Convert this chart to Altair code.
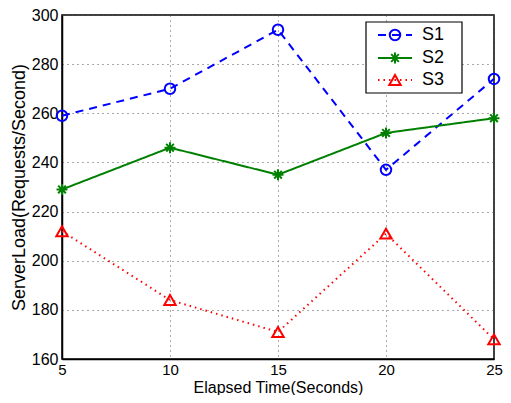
import altair as alt
import pandas as pd

x_vals = [5, 10, 15, 20, 25]
s1 = [259, 270, 294, 237, 274]
s2 = [229, 246, 235, 252, 258]
s3 = [212, 184, 171, 211, 168]
series = ["S1", "S2", "S3"]
colors = ["#0000FF", "#008000", "#FF0000"]
dashes = [[8, 6], [1, 0], [1.5, 4]]
widths = [2, 2, 1.5]
asterisk = "M-1,0L1,0M0,-1L0,1M-0.7,-0.7L0.7,0.7M-0.7,0.7L0.7,-0.7"
shapes = ["circle", asterisk, "triangle-up"]
sizes = [110, 130, 150]

rows = []
for name, vals in zip(series, [s1, s2, s3]):
    for xv, yv in zip(x_vals, vals):
        rows.append({"x": xv, "y": yv, "s": name})
df = pd.DataFrame(rows)

font = "Liberation Sans"
W, H = 432, 344

xs = alt.X("x:Q", scale=alt.Scale(domain=[5, 25], nice=False),
           axis=alt.Axis(values=x_vals, title="Elapsed Time(Seconds)", grid=True,
                         gridDash=[1, 4], gridColor="#555", gridWidth=1, ticks=False,
                         labelFontSize=15, titleFontSize=16, labelFont=font, titleFont=font,
                         labelColor="black", titleColor="black", domainColor="black",
                         domainWidth=1.5, labelPadding=3, labelBaseline="top",
                         titleBaseline="alphabetic", titleY=33,
                         labelFlush=False, titleFontWeight="normal"))
ys = alt.Y("y:Q", scale=alt.Scale(domain=[160, 300], nice=False, zero=False),
           axis=alt.Axis(values=list(range(160, 301, 20)), title="ServerLoad(Requests/Second)",
                         grid=True, gridDash=[1, 4], gridColor="#555", gridWidth=1, ticks=False,
                         labelFontSize=16, titleFontSize=18, labelFont=font, titleFont=font,
                         labelColor="black", titleColor="black", domainColor="black",
                         domainWidth=1.5, labelPadding=4, titlePadding=3,
                         titleFontWeight="normal"))

col = alt.Color("s:N", scale=alt.Scale(domain=series, range=colors), legend=None)
lines = alt.Chart(df).mark_line().encode(
    x=xs, y=ys, color=col, detail="s:N",
    strokeDash=alt.StrokeDash("s:N", scale=alt.Scale(domain=series, range=dashes), legend=None),
    strokeWidth=alt.StrokeWidth("s:N", scale=alt.Scale(domain=series, range=widths), legend=None),
)
points = alt.Chart(df).mark_point(filled=False, strokeWidth=2, opacity=1).encode(
    x="x:Q", y="y:Q", color=col,
    shape=alt.Shape("s:N", scale=alt.Scale(domain=series, range=shapes), legend=None),
    size=alt.Size("s:N", scale=alt.Scale(domain=series, range=sizes), legend=None),
)

# Legend
leg_y = [20, 43, 65]
leg = pd.DataFrame({"s": series, "ly": leg_y})
box = alt.Chart(pd.DataFrame({"a": [0]})).mark_rect(fill="white", stroke="black", strokeWidth=1.2).encode(
    x=alt.value(304), x2=alt.value(400), y=alt.value(7), y2=alt.value(78))
leg_lines = alt.Chart(leg).mark_rule().encode(
    x=alt.value(316), x2=alt.value(350), y=alt.Y("ly:Q", scale=None), color=col,
    strokeDash=alt.StrokeDash("s:N", scale=alt.Scale(domain=series, range=dashes), legend=None),
    strokeWidth=alt.StrokeWidth("s:N", scale=alt.Scale(domain=series, range=widths), legend=None),
)
leg_pts = alt.Chart(leg).mark_point(filled=False, strokeWidth=2, opacity=1).encode(
    x=alt.value(333), y=alt.Y("ly:Q", scale=None), color=col,
    shape=alt.Shape("s:N", scale=alt.Scale(domain=series, range=shapes), legend=None),
    size=alt.Size("s:N", scale=alt.Scale(domain=series, range=sizes), legend=None),
)
leg_txt = alt.Chart(leg).mark_text(align="left", baseline="middle", fontSize=18, font=font, color="black").encode(
    x=alt.value(360), y=alt.Y("ly:Q", scale=None), text="s:N")

chart = alt.layer(lines, points, box, leg_lines, leg_pts, leg_txt).properties(
    width=W, height=H, padding={"left": 54, "top": 7, "right": 9, "bottom": 36},
    autosize=alt.AutoSizeParams(type="none"), background="white",
).configure_view(stroke="black", strokeWidth=1.5)

chart.save("out.html", embed_options={"renderer": "svg", "actions": False})
